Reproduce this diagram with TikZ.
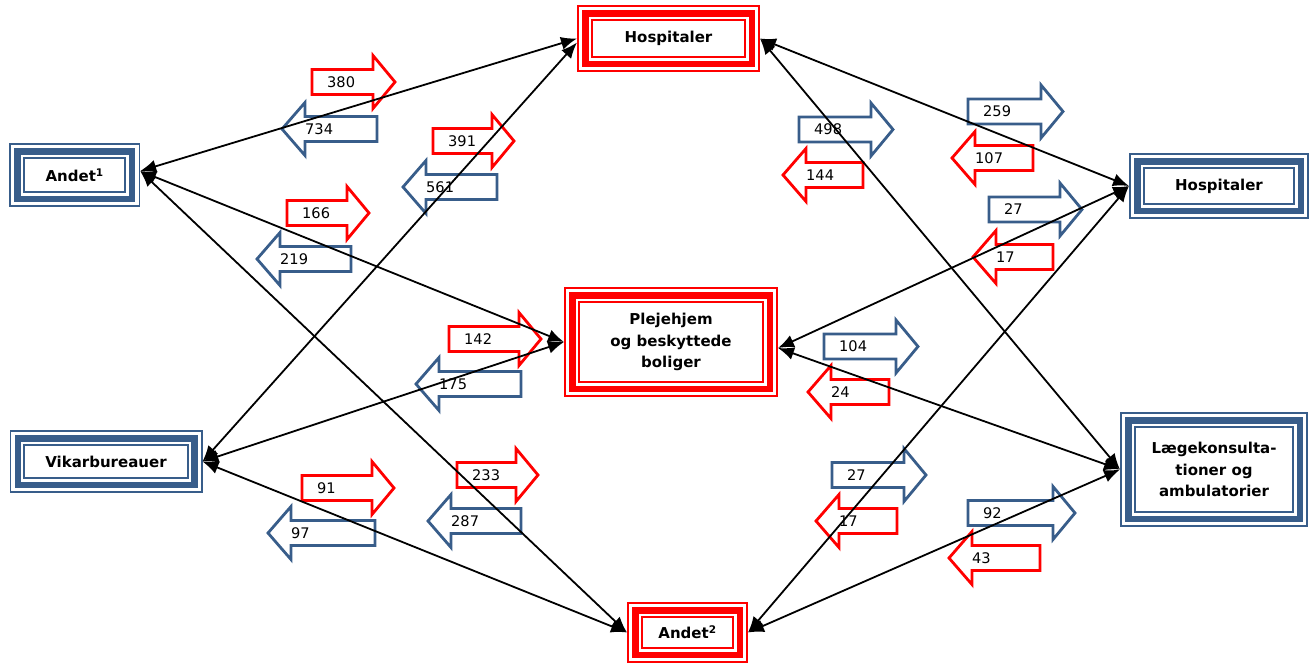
\documentclass[tikz,border=0pt]{standalone}
\usepackage{fontspec}
\setmainfont{DejaVu Sans}
\usetikzlibrary{arrows.meta}
\definecolor{bl}{HTML}{385D8A}
\definecolor{rd}{HTML}{FF0000}
\tikzset{
  tri/.style={draw=#1, line width=1.7pt, inner sep=0pt, align=center,
    font=\fontsize{15}{21.5}\selectfont\bfseries,
    path picture={
      \draw[#1, line width=6.5pt] ([shift={(7.4pt,-7.4pt)}]path picture bounding box.north west) rectangle ([shift={(-7.4pt,7.4pt)}]path picture bounding box.south east);
      \draw[#1, line width=2pt] ([shift={(14pt,-14pt)}]path picture bounding box.north west) rectangle ([shift={(-14pt,14pt)}]path picture bounding box.south east);
    }},
  blk/.style={line width=2.8pt, line join=miter},
  num/.style={font=\fontsize{14.6}{17}\selectfont, inner sep=0pt, text=black},
  link/.style={line width=1.8pt, {Latex[length=16pt,width=13pt]}-{Latex[length=16pt,width=13pt]}},
}
% right arrow: name, colour, tail x, tip x, centre y, label
\newcommand\rarr[6]{%
  \draw[blk,#2] (#3,#5-12.5) -- (#4-22,#5-12.5) -- (#4-22,#5-26.5) -- (#4,#5) -- (#4-22,#5+26.5) -- (#4-22,#5+12.5) -- (#3,#5+12.5) -- cycle;
  \node[num,anchor=west] (#1) at (#3+15,#5) {#6};
}
% left arrow: name, colour, tip x, tail x, centre y, label
\newcommand\larr[6]{%
  \draw[blk,#2] (#4,#5-12.5) -- (#3+23,#5-12.5) -- (#3+23,#5-26.5) -- (#3,#5) -- (#3+23,#5+26.5) -- (#3+23,#5+12.5) -- (#4,#5+12.5) -- cycle;
  \node[num,anchor=west] (#1) at (#3+23,#5) {#6};
}
\begin{document}
\begin{tikzpicture}[x=1pt,y=-1pt]
\useasboundingbox (0,0) rectangle (1310,664);
% boxes
\node[tri=rd, minimum width=181.3pt, minimum height=65.3pt] (h1) at (668.5,38.5) {Hospitaler};
\node[tri=bl, minimum width=129.3pt, minimum height=62.3pt] (a1) at (74.7,175) {Andet\textsuperscript{1}};
\node[tri=rd, minimum width=212.3pt, minimum height=108.3pt] (p) at (671,342) {Plejehjem\\og beskyttede\\boliger};
\node[tri=bl, minimum width=191.3pt, minimum height=61.3pt] (v) at (106,461.5) {Vikarbureauer};
\node[tri=bl, minimum width=178.3pt, minimum height=64.3pt] (h2) at (1219,186) {Hospitaler};
\node[tri=bl, minimum width=186.3pt, minimum height=113.3pt] (l) at (1214,469.5) {Lægekonsulta-\\tioner og\\ambulatorier};
\node[tri=rd, minimum width=119.3pt, minimum height=59.3pt] (a2) at (687.5,632.5) {Andet\textsuperscript{2}};
% block arrows, left side
\rarr{n380}{rd}{312}{395}{82}{380}
\larr{n734}{bl}{282}{377}{129}{734}
\rarr{n391}{rd}{433}{514}{141}{391}
\larr{n561}{bl}{403}{497}{187}{561}
\rarr{n166}{rd}{287}{369}{213}{166}
\larr{n219}{bl}{257}{351}{259}{219}
\rarr{n142}{rd}{449}{541}{339}{142}
\larr{n175}{bl}{416}{521}{384}{175}
\rarr{n91}{rd}{302}{394}{488}{91}
\larr{n97}{bl}{268}{375}{533}{97}
\rarr{n233}{rd}{457}{538}{475}{233}
\larr{n287}{bl}{428}{521}{521}{287}
% block arrows, right side
\rarr{n498}{bl}{799}{893}{129.5}{498}
\larr{n144}{rd}{783}{863}{175}{144}
\rarr{n259}{bl}{968}{1063}{111.5}{259}
\larr{n107}{rd}{952}{1033}{158}{107}
\rarr{n27a}{bl}{989}{1082}{209.5}{27}
\larr{n17a}{rd}{973}{1053}{257}{17}
\rarr{n104}{bl}{824}{918}{346.5}{104}
\larr{n24}{rd}{808}{889}{392}{24}
\rarr{n27b}{bl}{832}{926}{475}{27}
\larr{n17b}{rd}{816}{897}{521}{17}
\rarr{n92}{bl}{968}{1075}{513}{92}
\larr{n43}{rd}{949}{1040}{558}{43}
% connectors
\draw[link] ([yshift=4pt]a1.east) -- (h1.west);
\draw[link] ([yshift=4pt]a1.east) -- (p.west);
\draw[link] ([yshift=4pt]a1.east) -- (a2.west);
\draw[link] (v.east) -- ([yshift=-4pt]h1.west);
\draw[link] (v.east) -- (p.west);
\draw[link] (v.east) -- (a2.west);
\draw[link] (h1.east) -- (h2.west);
\draw[link] (h1.east) -- (l.west);
\draw[link] ([yshift=-6pt]p.east) -- (h2.west);
\draw[link] ([yshift=-6pt]p.east) -- (l.west);
\draw[link] (a2.east) -- (h2.west);
\draw[link] (a2.east) -- (l.west);
\end{tikzpicture}
\end{document}
